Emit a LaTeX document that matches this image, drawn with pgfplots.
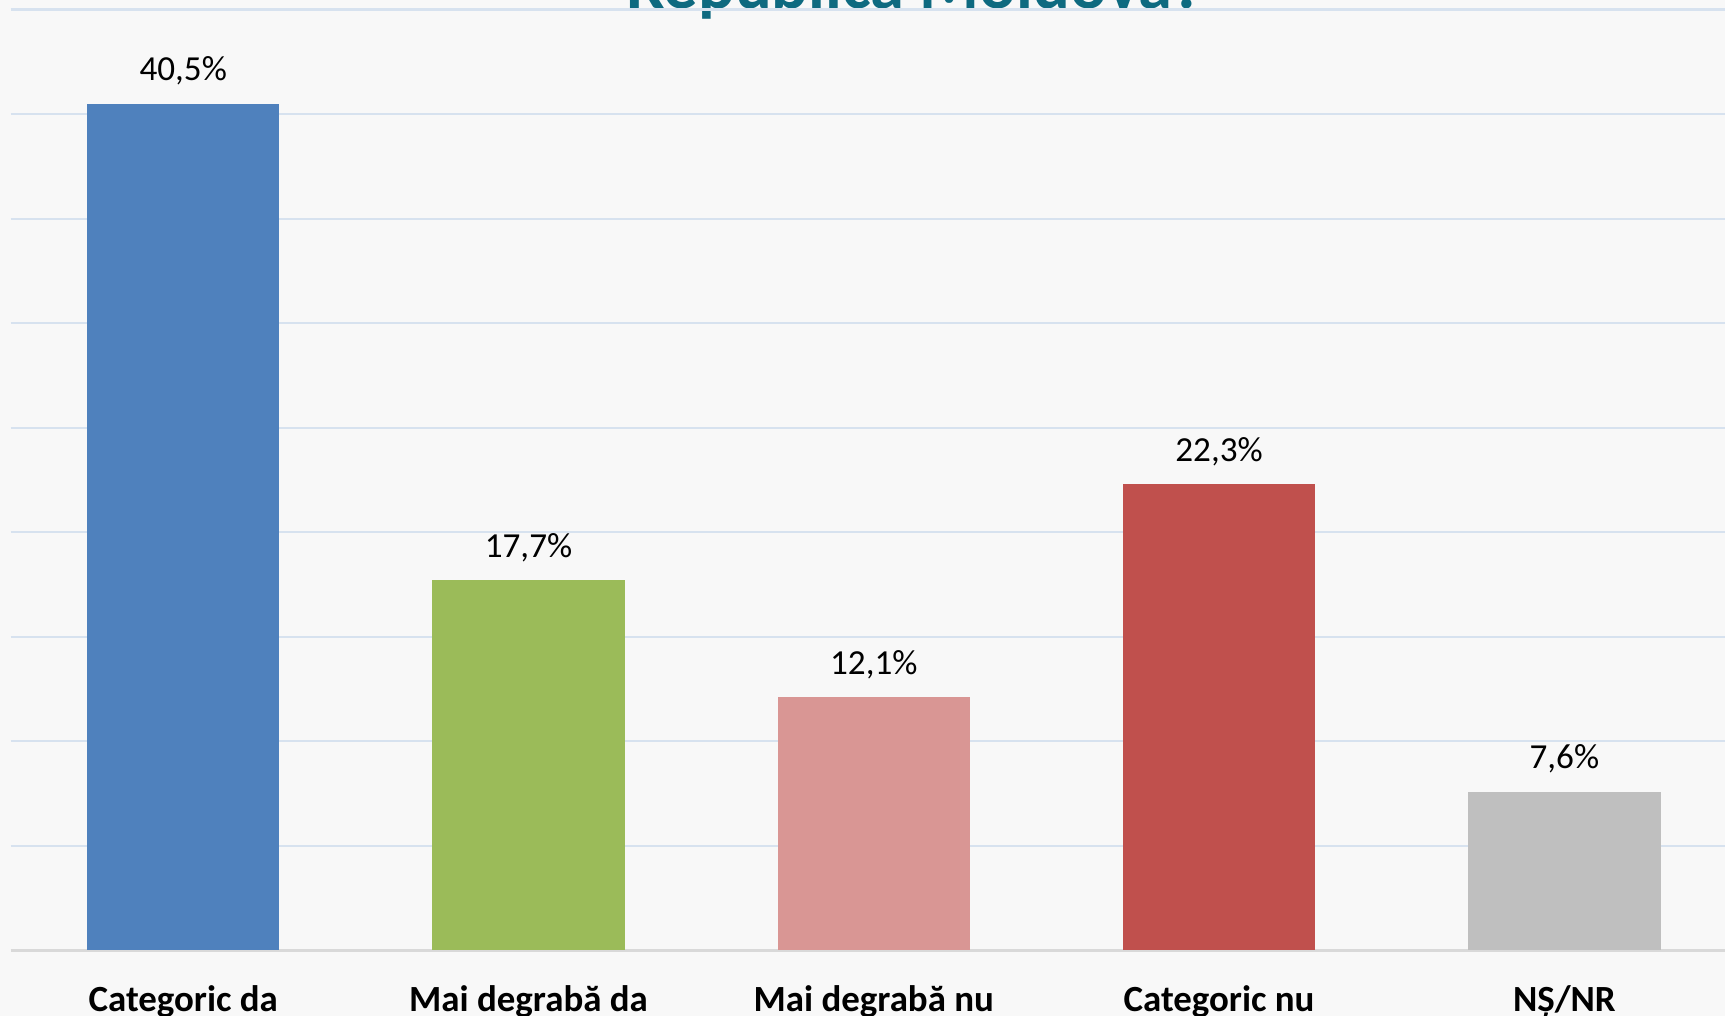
\documentclass[border=0pt]{standalone}
\usepackage{pgfplots}
\pgfplotsset{compat=1.18}
\usepackage{fontspec}
\setmainfont{Carlito}
\definecolor{bgc}{HTML}{F8F8F8}
\definecolor{gridc}{HTML}{D7E2EF}
\definecolor{basec}{HTML}{D9D9D9}
\definecolor{cblue}{HTML}{4F81BD}
\definecolor{cgreen}{HTML}{9BBB59}
\definecolor{cpink}{HTML}{D99694}
\definecolor{cred}{HTML}{C0504D}
\definecolor{cgray}{HTML}{BFBFBF}
\definecolor{titlec}{HTML}{0E6A80}
\begin{document}
\begin{tikzpicture}
\clip (0,0) rectangle (17.25,10.16);
\useasboundingbox (0,0) rectangle (17.25,10.16);
\fill[bgc] (0,0) rectangle (17.25,10.16);
\node[anchor=base, text=titlec, font=\fontsize{19.5}{22}\selectfont\bfseries, inner sep=0pt] at (9.15,10.07) {Republica Moldova?};
\begin{axis}[
  at={(0.106cm,0.655cm)}, anchor=south west,
  scale only axis, width=17.15cm, height=9.41cm,
  xmin=-0.5, xmax=4.467, ymin=0, ymax=45,
  ybar, bar width=1.925cm, bar shift=0pt,
  axis x line*=bottom,
  axis y line*=left,
  y axis line style={draw=none},
  x axis line style={draw=basec, line width=0.6pt, -},
  ytick={5,10,...,45},
  yticklabels={},
  ytick style={draw=none},
  ymajorgrids, grid style={draw=gridc, line width=0.6pt},
  xtick={0,1,2,3,4},
  xticklabels={Categoric da, Mai degrabă da, Mai degrabă nu, Categoric nu, NȘ/NR},
  xtick style={draw=none},
  xticklabel style={anchor=base, yshift=-4.65mm, font=\fontsize{10.5}{12.5}\selectfont\bfseries},
  /pgf/number format/assume math mode=true,
  nodes near coords={\pgfmathprintnumber[fixed,fixed zerofill,precision=1,use comma]{\pgfplotspointmeta}\%},
  every node near coord/.append style={anchor=base, yshift=2.3mm, inner sep=0pt, font=\fontsize{10}{12}\selectfont, text=black},
  clip=false,
]
\addplot[fill=cblue, draw=none] coordinates {(0,40.5)};
\addplot[fill=cgreen, draw=none] coordinates {(1,17.7)};
\addplot[fill=cpink, draw=none] coordinates {(2,12.1)};
\addplot[fill=cred, draw=none] coordinates {(3,22.3)};
\addplot[fill=cgray, draw=none] coordinates {(4,7.6)};
\end{axis}
\end{tikzpicture}
\end{document}
